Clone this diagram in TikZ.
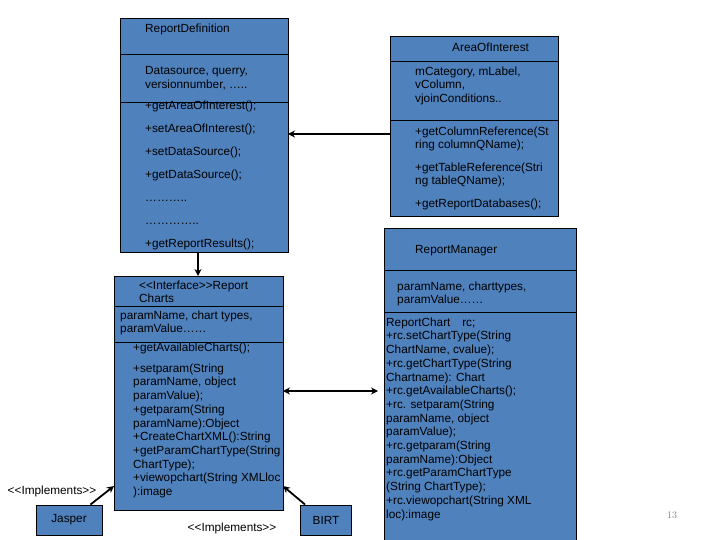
\documentclass[tikz,border=0pt]{standalone}
\usepackage{fontspec}
\setmainfont{Liberation Sans}[Ligatures=NoCommon]
\begin{document}
\begin{tikzpicture}[x=1bp,y=-1bp,
 box/.style={draw=black,fill=boxblue,line width=0.8bp},
 txt/.style={anchor=north west,inner sep=0pt,yshift=-2.5bp,font=\fontsize{11.8bp}{13.7bp}\selectfont,align=left},
 conn/.style={line width=1.8bp,-{Stealth[length=7bp,width=7bp]}},
 lbl/.style={inner sep=0pt,font=\fontsize{11.8bp}{12bp}\selectfont}]
\usetikzlibrary{arrows.meta}
\definecolor{boxblue}{HTML}{4F81BD}
\useasboundingbox (0,0) rectangle (720,540);
% ReportDefinition
\node[box,minimum width=168bp,minimum height=234bp,anchor=north west,inner sep=0pt] (rd) at (120,18) {};
\draw (120,54) -- (288,54) (120,102) -- (288,102);
\node[txt] (rdt) at (145,21) {ReportDefinition};
\node[txt] (rda) at (145,64) {Datasource, querry,\\versionnumber, \ldots..};
\node[txt,font=\fontsize{11.8bp}{23bp}\selectfont] (rdm) at (145,98) {+getAreaOfInterest();\\+setAreaOfInterest();\\+setDataSource();\\+getDataSource();\\\ldots\ldots\ldots..\\\ldots\ldots\ldots\ldots..\\+getReportResults();};
% AreaOfInterest
\node[box,minimum width=168bp,minimum height=180bp,anchor=north west,inner sep=0pt] (aoi) at (390,36) {};
\draw (390,61) -- (558,61) (390,120) -- (558,120);
\node[txt] (aoit) at (452,40) {AreaOfInterest};
\node[txt] (aoia) at (415,64) {mCategory, mLabel,\\vColumn,\\vjoinConditions..};
\node[txt] (aoim1) at (415,124) {+getColumnReference(St\\ring columnQName);};
\node[txt] (aoim2) at (415,160) {+getTableReference(Stri\\ng tableQName);};
\node[txt] (aoim3) at (415,196) {+getReportDatabases();};
% ReportManager
\node[box,minimum width=192bp,minimum height=316bp,anchor=north west,inner sep=0pt] (rm) at (384,228) {};
\draw (384,270) -- (576,270) (384,312) -- (576,312);
\node[txt] (rmt) at (415,243) {ReportManager};
\node[txt] (rma) at (397,279) {paramName, charttypes,\\paramValue\ldots\ldots};
\node[txt] (rmm) at (386,315) {ReportChart\quad rc;\\+rc.setChartType(String\\ChartName, cvalue);\\+rc.getChartType(String\\Chartname): Chart\\+rc.getAvailableCharts();\\+rc. setparam(String\\paramName, object\\paramValue);\\+rc.getparam(String\\paramName):Object\\+rc.getParamChartType\\(String ChartType);\\+rc.viewopchart(String XML\\loc):image};
% ReportCharts
\node[box,minimum width=169bp,minimum height=234bp,anchor=north west,inner sep=0pt] (rc) at (114,276) {};
\draw (114,306) -- (283,306) (114,342) -- (283,342);
\node[txt] (rct) at (139,278) {{<}{<}Interface{>}{>}Report\\Charts};
\node[txt] (rca) at (120,308) {paramName, chart types,\\paramValue\ldots\ldots};
\node[txt] (rcm1) at (133,340) {+getAvailableCharts();};
\node[txt] (rcm) at (133,361) {+setparam(String\\paramName, object\\paramValue);\\+getparam(String\\paramName):Object\\+CreateChartXML():String\\+getParamChartType(String\\ChartType);\\+viewopchart(String XMLloc\\):image};
% Jasper, BIRT
\node[box,minimum width=66bp,minimum height=30bp,lbl] (jasper) at (69,520) {Jasper};
\node[box,minimum width=51bp,minimum height=30bp,lbl] (birt) at (326,520) {BIRT};
\node[lbl] (imp1) at (52,491) {{<}{<}Implements{>}{>}};
\node[lbl] (imp2) at (232,528) {{<}{<}Implements{>}{>}};
\node[lbl,font=\fontfamily{lmr}\fontsize{10bp}{10bp}\selectfont,text=gray] (pg) at (672,515) {13};
% connectors
\coordinate (a1) at (390,134); \coordinate (a2) at (288,134);
\draw[conn] (a1) -- (a2);
\coordinate (b1) at (198,252); \coordinate (b2) at (198,276);
\draw[conn] (b1) -- (b2);
\coordinate (c1) at (283,391); \coordinate (c2) at (378,391);
\draw[conn,{Stealth[length=7bp,width=7bp]}-{Stealth[length=7bp,width=7bp]}] (c1) -- (c2);
\coordinate (d2) at (114,486);
\draw[conn] (jasper.north east) ++(-12,0) -- (d2);
\coordinate (e2) at (283,486);
\draw[conn] (birt.north west) ++(5,0) -- (e2);
\end{tikzpicture}
\end{document}
